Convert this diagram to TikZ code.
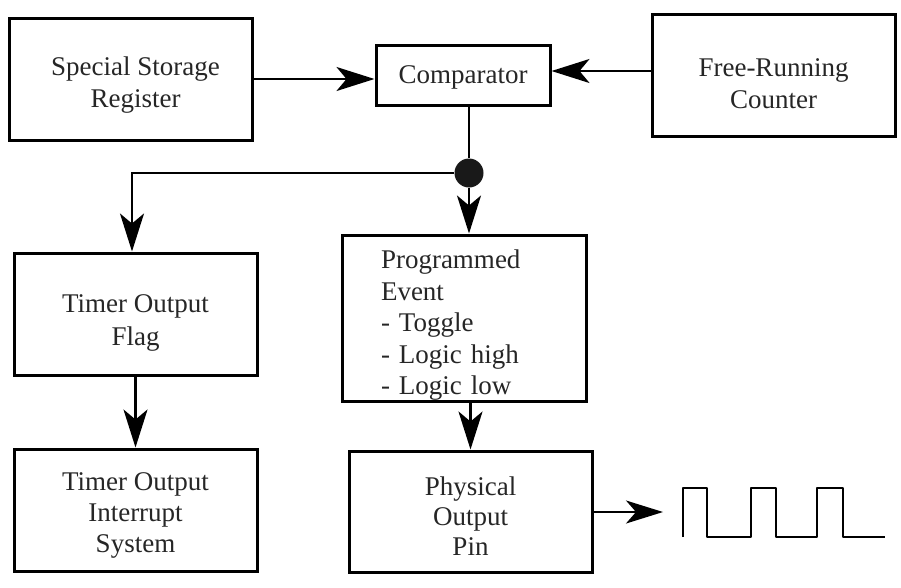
\documentclass[tikz,border=0pt]{standalone}
\usepackage{fontspec}
\setmainfont{Liberation Serif}
\usetikzlibrary{arrows.meta}
\newcommand\topstrut[1]{\rule{0pt}{#1}}
\begin{document}
\begin{tikzpicture}[x=1pt,y=-1pt,
  box/.style={draw, line width=3pt, rectangle, align=center, inner sep=0pt,
    font=\fontsize{27pt}{31.5pt}\selectfont, text=black!85},
  conn/.style={line width=2.2pt},
  arr/.style={conn, -{Stealth[length=38pt,width=24pt,inset=10pt]}},
  thinarr/.style={line width=1.8pt, -{Stealth[length=37pt,width=23pt,inset=10pt]}},
  wavestyle/.style={line width=2.6pt, line join=round, line cap=butt}]
\useasboundingbox (0,0) rectangle (901,587);
\node[box, minimum width=243pt, minimum height=122pt, font=\fontsize{27pt}{32pt}\selectfont] (ssr) at (130.5,79)
  {\hspace*{10pt}\topstrut{31pt}Special Storage\\\hspace*{10pt}Register};
\node[box, minimum width=174pt, minimum height=60pt] (cmp) at (463,75) {\topstrut{23pt}Comparator};
\node[box, minimum width=243pt, minimum height=122pt, font=\fontsize{27pt}{32pt}\selectfont] (frc) at (773.5,75)
  {\topstrut{36pt}Free-Running\\Counter};
\node[circle, fill=black!90, inner sep=0pt, minimum size=29pt] (dot) at (469,173) {};
\node[box, minimum width=243pt, minimum height=122pt, font=\fontsize{27pt}{33pt}\selectfont] (tof) at (135.5,314)
  {\topstrut{36pt}Timer Output\\Flag};
\node[box, minimum width=243pt, minimum height=122pt, font=\fontsize{27pt}{31pt}\selectfont] (tois) at (135.5,510)
  {\topstrut{29pt}Timer Output\\Interrupt\\System};
\node[box, align=left, text width=166pt, inner xsep=39pt, minimum height=166pt] (pe) at (464,318)
  {\topstrut{33pt}Programmed\\Event\\- Toggle\\- Logic high\\- Logic low};
\node[box, minimum width=243pt, minimum height=121pt, font=\fontsize{27pt}{30pt}\selectfont] (pop) at (470.5,511.5)
  {\topstrut{27pt}Physical\\Output\\Pin};
\coordinate (wv) at (663,512);

\draw[arr] (ssr.east) -- (ssr.east -| cmp.west);
\draw[arr] ([yshift=4pt]frc.west) -- ([yshift=4pt]frc.west -| cmp.east);
\draw[conn] (dot |- cmp.south) -- (dot);
\draw[arr] (dot) -- (dot |- pe.north);
\draw[arr] (dot) -| ([xshift=-3.5pt]tof.north);
\draw[arr] (tof.south) -- (tois.north);
\draw[arr] (pop.north |- pe.south) -- (pop.north);
\draw[thinarr] (pop.east |- wv) -- (wv);

\draw[wavestyle] (683,537) -- (683,488) -- (707,488) -- (707,537) -- (751,537) -- (751,488)
  -- (776,488) -- (776,537) -- (817,537) -- (817,488) -- (843,488) -- (843,537) -- (885,537);
\end{tikzpicture}
\end{document}
